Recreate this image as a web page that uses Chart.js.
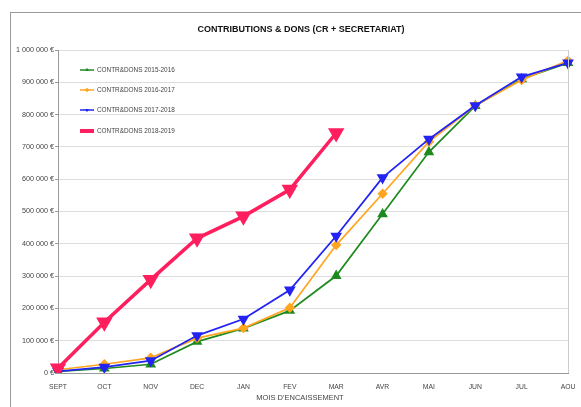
<!DOCTYPE html>
<html lang="fr">
<head>
  <meta charset="UTF-8" />
  <title>Contributions & dons</title>
  <script src="https://cdn.jsdelivr.net/npm/chart.js"></script>
  <style>
    html, body { margin: 0; padding: 0; background: #fff; }
    .wrap { position: relative; width: 581px; height: 407px; }
  </style>
</head>
<body>
  <div class="wrap"><canvas id="chart" width="581" height="407"></canvas></div>

  <script>
    // Data
    const months = ["SEPT", "OCT", "NOV", "DEC", "JAN", "FEV", "MAR", "AVR", "MAI", "JUN", "JUL", "AOU"];
    const dons2015 = [5000, 14000, 27000, 97000, 138000, 193000, 301000, 492000, 684000, 827000, 910000, 960000];
    const dons2016 = [10000, 27000, 47000, 108000, 139000, 202000, 396000, 555000, 716000, 828000, 907000, 967000];
    const dons2017 = [5000, 18000, 38000, 116000, 167000, 257000, 424000, 605000, 724000, 828000, 917000, 960000];
    const dons2018 = [15000, 157000, 289000, 417000, 485000, 568000, 743000];
    const yTicks = [0, 100000, 200000, 300000, 400000, 500000, 600000, 700000, 800000, 900000, 1000000];

    const FONT = "'Liberation Sans', Arial, sans-serif";

    function euro(v) {
      return String(v).replace(/\B(?=(\d{3})+(?!\d))/g, " ") + " €";
    }

    // frame, titles, in-plot legend, right border
    const decor = {
      id: "decor",
      beforeDraw(chart) {
        const c = chart.ctx;
        c.save();
        c.strokeStyle = "#999";
        c.lineWidth = 1;
        c.strokeRect(10.5, 12.5, 600, 420);
        c.restore();
      },
      afterDraw(chart) {
        const c = chart.ctx;
        const a = chart.chartArea;
        c.save();
        c.font = "bold 9px " + FONT;
        c.fillStyle = "#111";
        c.textAlign = "center";
        c.textBaseline = "middle";
        c.fillText("CONTRIBUTIONS & DONS (CR + SECRETARIAT)", 301, 30);

        c.font = "7.5px " + FONT;
        c.fillStyle = "#444";
        c.fillText("MOIS D'ENCAISSEMENT", 300, 398);

        c.strokeStyle = "#ccc";
        c.lineWidth = 1;
        c.beginPath();
        c.moveTo(Math.round(a.right) + 0.5, a.top);
        c.lineTo(Math.round(a.right) + 0.5, a.bottom);
        c.stroke();

        const rows = [70, 90, 110, 131];
        c.font = "6.4px " + FONT;
        c.textAlign = "left";
        chart.data.datasets.forEach((ds, i) => {
          const y = rows[i];
          c.strokeStyle = ds.borderColor;
          c.lineWidth = i === 3 ? 4 : 1.5;
          c.beginPath();
          c.moveTo(80, y);
          c.lineTo(94, y);
          c.stroke();
          if (i < 3) {
            c.fillStyle = ds.borderColor;
            Chart.helpers.drawPoint(c, { pointStyle: ds.pointStyle, radius: 2.2, rotation: ds.rotation || 0, borderWidth: 0 }, 87, y);
          }
          c.fillStyle = "#444";
          c.fillText(ds.label, 97, y + 0.5);
        });
        c.restore();
      }
    };

    new Chart(document.getElementById("chart").getContext("2d"), {
      type: "line",
      data: {
        labels: months,
        datasets: [
          {
            label: "CONTR&DONS 2015-2016",
            data: dons2015,
            borderColor: "#1f8a1f",
            backgroundColor: "#1f8a1f",
            borderWidth: 1.7,
            pointStyle: "triangle",
            pointRadius: 4.5,
            order: 3
          },
          {
            label: "CONTR&DONS 2016-2017",
            data: dons2016,
            borderColor: "#ffa520",
            backgroundColor: "#ffa520",
            borderWidth: 1.7,
            pointStyle: "rectRot",
            pointRadius: 4,
            order: 2
          },
          {
            label: "CONTR&DONS 2017-2018",
            data: dons2017,
            borderColor: "#2323f2",
            backgroundColor: "#2323f2",
            borderWidth: 1.8,
            pointStyle: "triangle",
            rotation: 180,
            pointRadius: 5,
            order: 1
          },
          {
            label: "CONTR&DONS 2018-2019",
            data: dons2018,
            borderColor: "#ff1f5e",
            backgroundColor: "#ff1f5e",
            borderWidth: 3.5,
            pointStyle: "triangle",
            rotation: 180,
            pointRadius: 6,
            order: 0
          }
        ]
      },
      options: {
        responsive: false,
        animation: false,
        layout: { padding: { top: 50, right: 13, left: 0, bottom: 0 } },
        elements: { line: { tension: 0 }, point: { borderWidth: 0 } },
        plugins: {
          legend: { display: false },
          title: { display: false },
          tooltip: { enabled: false }
        },
        scales: {
          x: {
            offset: false,
            afterFit(axis) { axis.height = 34; },
            grid: { display: false },
            border: { display: true, color: "#999" },
            ticks: {
              color: "#444",
              font: { size: 6.8, family: FONT },
              maxRotation: 0,
              autoSkip: false,
              padding: 2
            }
          },
          y: {
            min: 0,
            max: 1000000,
            afterFit(axis) { axis.width = 58; },
            afterBuildTicks(axis) { axis.ticks = yTicks.map(v => ({ value: v })); },
            grid: { color: "#ddd", tickLength: 3, tickColor: "#999" },
            border: { display: true, color: "#999" },
            ticks: {
              color: "#444",
              padding: 1,
              font: { size: 7.2, family: FONT },
              callback: v => euro(v)
            }
          }
        }
      },
      plugins: [decor]
    });
  </script>
</body>
</html>
